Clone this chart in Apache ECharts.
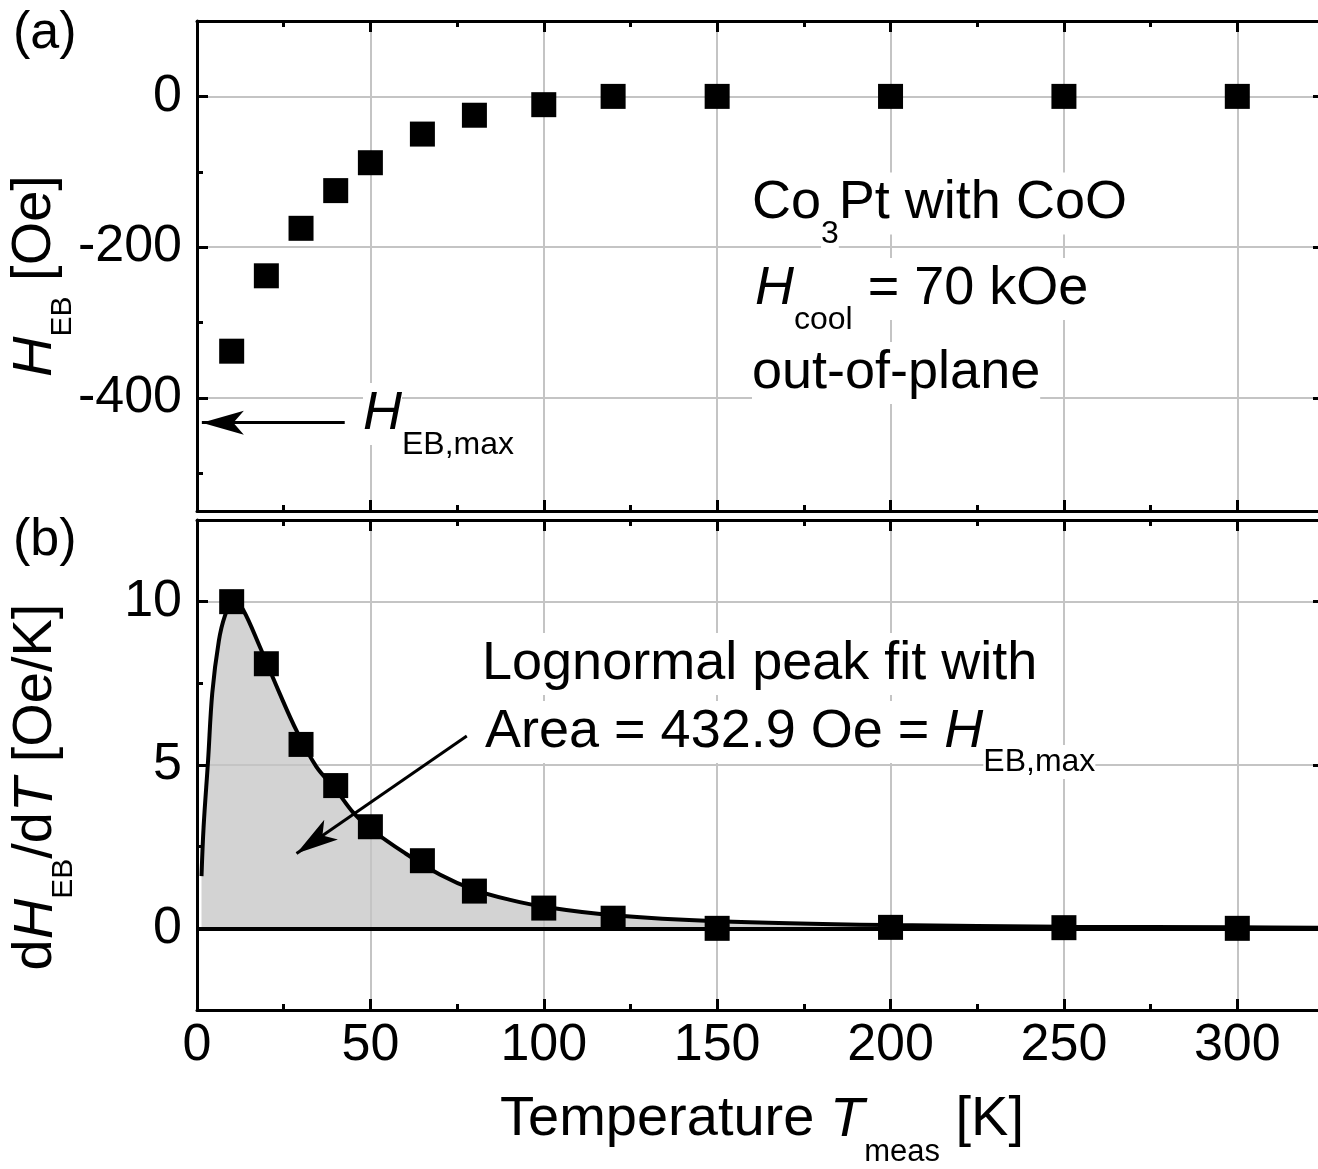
<!DOCTYPE html>
<html><head><meta charset="utf-8">
<script src="https://cdn.jsdelivr.net/npm/echarts@6/dist/echarts.min.js"></script>
<style>html,body{margin:0;padding:0;background:#fff}#c{width:1318px;height:1169px}</style>
</head><body><div id="c"></div><script>
// ---- data ----
const T = [10, 20, 30, 40, 50, 65, 80, 100, 120, 150, 200, 250, 300];
const H_EB = [-338, -238, -175, -125, -88, -50, -25, -11, 0, 0, 0, 0, 0];
const dH_dT = [10.0, 8.1, 5.63, 4.37, 3.11, 2.07, 1.14, 0.62, 0.31, 0.0, 0.03, 0.02, 0.0];
const fitT = [1.3, 1.9, 3.2, 4.4, 6.3, 8.0, 10.5, 13.3, 18.0, 23.8, 28.7, 34.4, 40, 45, 50, 60, 70, 80, 90, 100, 120, 150, 200, 250, 300, 325];
const fitV = [1.6, 3.1, 5.15, 7.2, 8.8, 9.55, 10.1, 9.75, 8.65, 7.2, 6.05, 4.95, 4.25, 3.55, 3.05, 2.3, 1.65, 1.18, 0.88, 0.66, 0.40, 0.22, 0.10, 0.05, 0.03, 0.02];
const xRange = [0, 325];
const yRangeA = [-550, 100];
const yRangeB = [-2.5, 12.5];
const arrowA = [[42.6, -432.9], [1.4, -432.9]];
const arrowB = [[77.8, 5.89], [28.7, 2.29]];

const FF = 'Liberation Sans';
const zip = (a, b) => a.map((v, i) => [v, b[i]]);

function xAx(grid, pos, label, split) {
  return {
    type: 'value', gridIndex: grid, position: pos, min: xRange[0], max: xRange[1], interval: 50,
    axisLine: { show: true, onZero: false, lineStyle: { color: '#000', width: 3 } },
    axisTick: { show: true, inside: true, length: 11, lineStyle: { color: '#000', width: 3 } },
    minorTick: { show: true, splitNumber: 2, length: 6, lineStyle: { color: '#000', width: 3 } },
    axisLabel: { show: label, showMaxLabel: false, margin: 10, fontSize: 52, fontFamily: FF, color: '#000' },
    splitLine: { show: split, showMinLine: false, showMaxLine: false, lineStyle: { color: '#c4c4c4', width: 2 } },
    minorSplitLine: { show: false }, z: 1
  };
}
function yAx(grid, pos, range, label, split) {
  return {
    type: 'value', gridIndex: grid, position: pos, min: range[0], max: range[1], splitNumber: 3,
    axisLine: { show: true, onZero: false, lineStyle: { color: '#000', width: 3 } },
    axisTick: { show: true, inside: true, length: 11, lineStyle: { color: '#000', width: 3 } },
    minorTick: { show: true, splitNumber: 2, length: 6, lineStyle: { color: '#000', width: 3 } },
    axisLabel: { show: label, showMinLabel: false, showMaxLabel: false, margin: 15, fontSize: 52, fontFamily: FF, color: '#000' },
    splitLine: { show: split, showMinLine: false, showMaxLine: false, lineStyle: { color: '#c4c4c4', width: 2 } },
    minorSplitLine: { show: false }, z: 1
  };
}

function R(fs, ss, shift, bg) {
  const base = { fontFamily: FF, fill: '#000' };
  const mh = Math.round(fs * 1.15);
  const o = {
    n: Object.assign({}, base, { fontSize: fs, lineHeight: mh, height: mh }),
    i: Object.assign({}, base, { fontSize: fs, fontStyle: 'italic', lineHeight: mh, height: mh }),
    s: Object.assign({}, base, { fontSize: ss, lineHeight: ss + 2 * shift, height: ss + 2, verticalAlign: 'bottom' })
  };
  if (bg) Object.keys(o).forEach(k => { o[k].backgroundColor = '#fff'; });
  return o;
}
function txt(x, y, text, rich, align, rot) {
  return { type: 'text', x: x, y: y, rotation: rot || 0, z: 20,
    style: { text: text, rich: rich, align: align || 'left', verticalAlign: 'middle', fill: '#000', fontFamily: FF } };
}
const RA = R(54, 32, 32, true);
const RB = R(54, 32, 31, true);
const RT = R(56, 30, 29, false);
const RX = R(56, 31, 33, false);
const RP = R(52, 28, 30, false);

const arrowMark = (pts) => ({
  silent: true, animation: false,
  symbol: ['none', 'arrow'], symbolSize: 36,
  lineStyle: { color: '#000', width: 3, type: 'solid' },
  itemStyle: { color: '#000' },
  label: { show: false }, emphasis: { disabled: true },
  data: [[{ coord: pts[0], symbol: 'none' }, { coord: pts[1], symbol: 'arrow', symbolSize: [18, 42] }]]
});

const option = {
  animation: false,
  backgroundColor: '#fff',
  grid: [
    { left: 197, top: 21, width: 1127, height: 490, containLabel: false, outerBoundsMode: 'none' },
    { left: 197, top: 520, width: 1127, height: 490, containLabel: false, outerBoundsMode: 'none' }
  ],
  xAxis: [xAx(0, 'bottom', false, true), xAx(0, 'top', false, false), xAx(1, 'bottom', true, true), xAx(1, 'top', false, false)],
  yAxis: [yAx(0, 'left', yRangeA, true, true), yAx(0, 'right', yRangeA, false, false), yAx(1, 'left', yRangeB, true, true), yAx(1, 'right', yRangeB, false, false)],
  series: [
    { type: 'scatter', xAxisIndex: 0, yAxisIndex: 0, data: zip(T, H_EB), symbol: 'rect', symbolSize: 25,
      itemStyle: { color: '#000', opacity: 1 }, z: 4, silent: true, markLine: arrowMark(arrowA) },
    { type: 'line', xAxisIndex: 2, yAxisIndex: 2, data: zip(fitT, fitV), symbol: 'none', showSymbol: false, smooth: 0.35,
      lineStyle: { width: 0, opacity: 0 }, areaStyle: { color: '#d3d3d3', opacity: 1, origin: 'auto' }, z: -1, silent: true },
    { type: 'line', xAxisIndex: 2, yAxisIndex: 2, data: zip(fitT, fitV), symbol: 'none', showSymbol: false, smooth: 0.35,
      lineStyle: { color: '#000', width: 4 }, z: 3, silent: true,
      markLine: { silent: true, symbol: ['none', 'none'], lineStyle: { color: '#000', width: 4, type: 'solid' }, label: { show: false },
        emphasis: { disabled: true }, data: [{ yAxis: 0 }] } },
    { type: 'scatter', xAxisIndex: 2, yAxisIndex: 2, data: zip(T, dH_dT), symbol: 'rect', symbolSize: 25,
      itemStyle: { color: '#000', opacity: 1 }, z: 4, silent: true, markLine: arrowMark(arrowB) }
  ],
  graphic: [
    txt(13, 34, '{n|(a)}', RP),
    txt(13, 541, '{n|(b)}', RP),
    txt(35, 276, '{i|H}{s|EB}{n| [Oe]}', RT, 'center', Math.PI / 2),
    txt(36, 787, '{n|d}{i|H}{s|EB}{n|/d}{i|T}{n| [Oe/K]}', RT, 'center', Math.PI / 2),
    txt(762, 1120, '{n|Temperature }{i|T}{s|meas}{n| [K]}', RX, 'center'),
    txt(752, 203.5, '{n|Co}{s|3}{n|Pt with CoO}', RA),
    txt(755, 289, '{i|H}{s|cool}{n| = 70 kOe}', RA),
    txt(752, 373, '{n|out-of-plane}', RA),
    txt(363, 414, '{i|H}{s|EB,max}', RA),
    txt(482, 664, '{n|Lognormal peak fit with}', RB),
    txt(485, 732, '{n|Area = 432.9 Oe = }{i|H}{s|EB,max}', RB)
  ]
};
const chart = echarts.init(document.getElementById('c'), null, { renderer: 'canvas' });
chart.setOption(option);
</script></body></html>
